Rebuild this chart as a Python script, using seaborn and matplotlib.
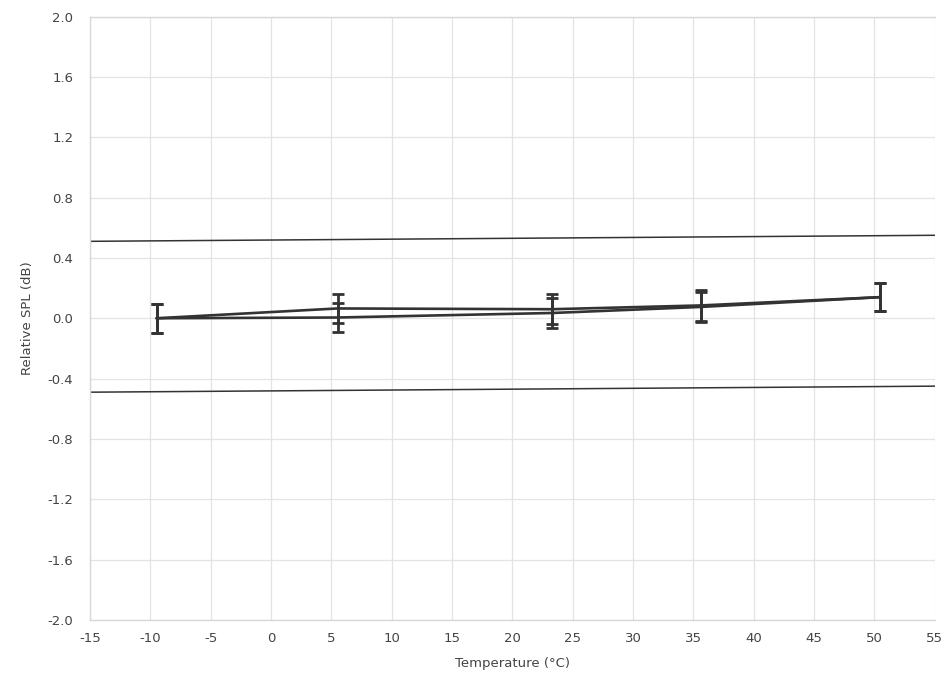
import matplotlib
matplotlib.use("Agg")
import matplotlib.pyplot as plt
import seaborn as sns
import numpy as np
import pandas as pd

# Data
temps = [-9.5, 5.5, 23.3, 35.6, 50.5]
series_a = [0.0, 0.065, 0.06, 0.085, 0.14]
series_b = [0.0, 0.005, 0.035, 0.075, 0.14]
err_a = [0.095, 0.095, 0.1, 0.1, 0.095]
err_b = [0.095, 0.095, 0.1, 0.1, 0.095]
limit_upper = [0.51, 0.55]
limit_lower = [-0.49, -0.45]
limit_x = [-15, 55]
x_ticks = list(range(-15, 56, 5))
y_ticks = [-2.0, -1.6, -1.2, -0.8, -0.4, 0.0, 0.4, 0.8, 1.2, 1.6, 2.0]

sns.set_theme(style="white")
plt.rcParams['font.family'] = ['DejaVu Sans']
plt.rcParams['axes.unicode_minus'] = False

fig = plt.figure(figsize=(9.49, 6.75), dpi=100)
ax = fig.add_axes([0.095, 0.0815, 0.89, 0.894])

df = pd.concat([
    pd.DataFrame({"T": temps, "SPL": series_a, "s": "A"}),
    pd.DataFrame({"T": temps, "SPL": series_b, "s": "B"}),
])
sns.lineplot(data=df, x="T", y="SPL", units="s", estimator=None, color="#333333",
             linewidth=1.9, ax=ax, legend=False, sort=False)
for vals, errs in [(series_a, err_a), (series_b, err_b)]:
    ax.errorbar(temps, vals, yerr=errs, fmt="none", ecolor="#333333",
                elinewidth=2.0, capsize=4.5, capthick=2.0, zorder=3)

sns.lineplot(x=limit_x, y=limit_upper, color="#333333", linewidth=1.1, ax=ax)
sns.lineplot(x=limit_x, y=limit_lower, color="#333333", linewidth=1.1, ax=ax)

ax.set_xlim(-15, 55)
ax.set_ylim(-2.0, 2.0)
ax.set_xticks(x_ticks)
ax.set_xticklabels([str(v) for v in x_ticks])
ax.set_yticks(y_ticks)
ax.set_yticklabels([f"{v:.1f}" for v in y_ticks])
ax.grid(True, color="#e3e3e3", linewidth=0.9)
ax.spines["right"].set_visible(False)
for side in ["left", "bottom", "top"]:
    ax.spines[side].set_color("#d8d8d8")
    ax.spines[side].set_linewidth(1.0)
ax.tick_params(axis="both", labelsize=9.5, colors="#444444", length=0)
ax.tick_params(axis="x", pad=9)
ax.tick_params(axis="y", pad=12)
ax.set_xlabel("Temperature (°C)", fontsize=9.5, color="#444444", labelpad=8)
ax.set_ylabel("Relative SPL (dB)", fontsize=9.5, color="#444444", labelpad=10)

fig.savefig("out.png", dpi=100, facecolor="white")
